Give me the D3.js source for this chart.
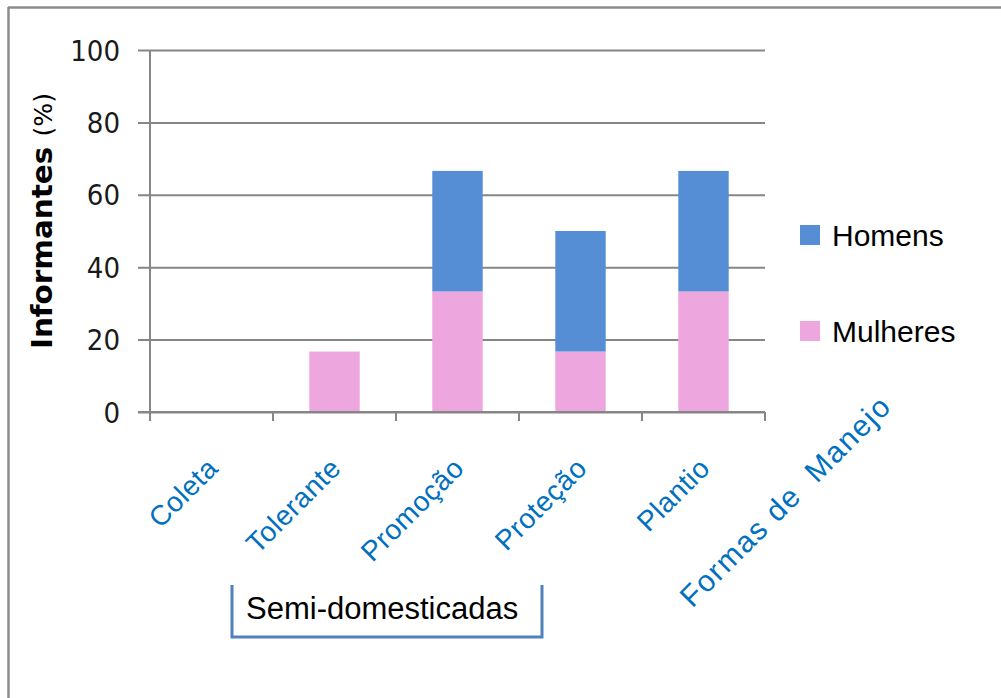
<!DOCTYPE html>
<html>
<head>
<meta charset="utf-8">
<script src="https://cdnjs.cloudflare.com/ajax/libs/d3/7.8.5/d3.min.js"></script>
<style>
    body { margin: 0; background: #fff; }
    svg { display: block; }
</style>
</head>
<body>
<svg></svg>
<script>
    // Chart data
    const categories = ['Coleta', 'Tolerante', 'Promoção', 'Proteção', 'Plantio']
    const mulheres = [0, 16.7, 33.3, 16.7, 33.3]
    const homens = [0, 0, 33.3, 33.3, 33.3]
    const yTicks = [0, 20, 40, 60, 80, 100]
    const seriesNames = ['Mulheres', 'Homens']
    const legendOrder = ['Homens', 'Mulheres']

    const width = 1001
    const height = 698
    const plotLeft = 150
    const plotRight = 765
    const plotTop = 50
    const plotBottom = 412

    const colors = { Homens: '#558ed5', Mulheres: '#eea6de' }
    const gridColor = '#868686'

    let svg = d3.select('svg')
        .attr('width', width)
        .attr('height', height)

    // Outer frame (top and left only)
    svg.append('line')
        .attr('x1', 8).attr('y1', 7.5).attr('x2', width).attr('y2', 7.5)
        .attr('stroke', '#8c8c8c').attr('stroke-width', 2.5)
    svg.append('line')
        .attr('x1', 8.5).attr('y1', 7).attr('x2', 8.5).attr('y2', height)
        .attr('stroke', '#8c8c8c').attr('stroke-width', 2.5)

    // Scales
    let xScale = d3.scaleBand()
        .domain(categories)
        .range([plotLeft, plotRight])
        .paddingInner(0.59)
        .paddingOuter(0.295)

    let yScale = d3.scaleLinear()
        .domain([0, 100])
        .range([plotBottom, plotTop])

    // Gridlines + y axis
    let yAxis = d3.axisLeft(yScale)
        .tickValues(yTicks)
        .tickSize(-(plotRight - plotLeft))
        .tickPadding(0)
        .tickFormat(d => d)

    let gy = svg.append('g')
        .attr('transform', 'translate(' + plotLeft + ',0)')
        .call(yAxis)
    gy.select('.domain').remove()
    gy.selectAll('.tick line')
        .attr('x1', -12)
        .attr('stroke', gridColor)
        .attr('stroke-width', 2)
    gy.selectAll('.tick text')
        .attr('x', -30)
        .attr('dy', '0.35em')
        .attr('fill', '#1a1a1a')
        .style('font-family', '"Liberation Sans Narrow", "DejaVu Sans Condensed", sans-serif')
        .style('font-size', '29px')

    // y axis line
    svg.append('line')
        .attr('x1', plotLeft).attr('x2', plotLeft)
        .attr('y1', yScale(100)).attr('y2', plotBottom + 9)
        .attr('stroke', gridColor).attr('stroke-width', 2)

    // Stacked bars
    let rows = categories.map((c, i) => ({ cat: c, Mulheres: mulheres[i], Homens: homens[i] }))
    let stacked = d3.stack().keys(seriesNames)(rows)

    svg.append('g')
        .selectAll('g')
        .data(stacked)
        .enter()
        .append('g')
        .attr('fill', d => colors[d.key])
        .selectAll('rect')
        .data(d => d)
        .enter()
        .append('rect')
        .attr('x', d => xScale(d.data.cat))
        .attr('width', xScale.bandwidth())
        .attr('y', d => yScale(d[1]))
        .attr('height', d => yScale(d[0]) - yScale(d[1]))

    // x axis baseline and category ticks
    svg.append('line')
        .attr('x1', plotLeft - 12).attr('x2', plotRight)
        .attr('y1', plotBottom).attr('y2', plotBottom)
        .attr('stroke', gridColor).attr('stroke-width', 2)

    let step = xScale.step()
    svg.append('g')
        .selectAll('line')
        .data(d3.range(categories.length + 1))
        .enter()
        .append('line')
        .attr('x1', i => plotLeft + i * step)
        .attr('x2', i => plotLeft + i * step)
        .attr('y1', plotBottom)
        .attr('y2', plotBottom + 9)
        .attr('stroke', gridColor)
        .attr('stroke-width', 2)

    // Rotated category labels
    svg.append('g')
        .selectAll('text')
        .data(categories)
        .enter()
        .append('text')
        .attr('transform', d => 'translate(' + (xScale(d) + xScale.bandwidth() / 2 + 8) + ',470) rotate(-45)')
        .attr('text-anchor', 'end')
        .attr('fill', '#0070c0')
        .style('font-family', '"Liberation Sans", Arial, sans-serif')
        .style('font-size', '28px')
        .style('letter-spacing', '0.5px')
        .text(d => d)

    // Axis title on the x side
    svg.append('text')
        .attr('transform', 'translate(893,408) rotate(-45)')
        .attr('text-anchor', 'end')
        .attr('fill', '#0070c0')
        .style('font-family', '"Liberation Sans", Arial, sans-serif')
        .style('font-size', '30px')
        .style('letter-spacing', '1.5px')
        .style('white-space', 'pre')
        .text('Formas de  Manejo')

    // Y axis title
    let ytitle = svg.append('text')
        .attr('transform', 'translate(52,221) rotate(-90)')
        .attr('text-anchor', 'middle')
        .attr('fill', '#000')
        .style('font-family', '"Liberation Sans Narrow", "DejaVu Sans Condensed", sans-serif')
        .style('font-size', '28px')
        .attr('textLength', 256)
        .attr('lengthAdjust', 'spacingAndGlyphs')
    ytitle.append('tspan').style('font-weight', 'bold').text('Informantes ')
    ytitle.append('tspan').style('font-size', '24px').text('(%)')

    // Semi-domesticadas bracket
    svg.append('path')
        .attr('d', 'M232,585 V637 H542 V585')
        .attr('fill', 'none')
        .attr('stroke', '#4f81bd')
        .attr('stroke-width', 3)
    svg.append('text')
        .attr('x', 246)
        .attr('y', 619)
        .attr('fill', '#000')
        .style('font-family', '"Liberation Sans", Arial, sans-serif')
        .style('font-size', '31px')
        .text('Semi-domesticadas')

    // Legend
    let legend = svg.append('g')
        .selectAll('g')
        .data(legendOrder)
        .enter()
        .append('g')
        .attr('transform', (d, i) => 'translate(800,' + (225 + i * 96) + ')')
    legend.append('rect')
        .attr('width', 20)
        .attr('height', 20)
        .attr('fill', d => colors[d])
    legend.append('text')
        .attr('x', 32)
        .attr('y', 10)
        .attr('dy', '0.36em')
        .attr('fill', '#000')
        .style('font-family', '"Liberation Sans", Arial, sans-serif')
        .style('font-size', '30px')
        .text(d => d)
</script>
</body>
</html>
